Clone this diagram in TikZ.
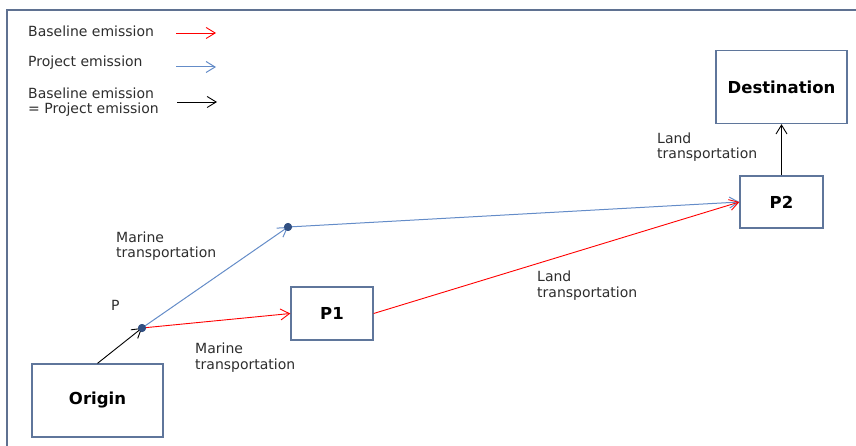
\documentclass[tikz,border=0pt]{standalone}
\usepackage{fontspec}
\setmainfont{DejaVu Sans}
\usetikzlibrary{arrows.meta}
\definecolor{frame}{RGB}{95,113,145}
\definecolor{boxline}{RGB}{95,118,155}
\definecolor{blueline}{RGB}{100,140,200}
\definecolor{dotblue}{RGB}{50,80,130}
\definecolor{txt}{RGB}{45,45,45}
\tikzset{
  x=1pt, y=-1pt,
  tip/.style={-{Straight Barb[length=9pt,width=11pt]}},
  boxnode/.style={draw=boxline, line width=1.3pt, fill=white, inner sep=0pt, font=\fontsize{16.5}{18}\selectfont\bfseries},
  lbl/.style={text=txt, inner sep=0pt, anchor=base west, align=left, font=\fontsize{14}{15.5}\selectfont},
  redarr/.style={tip, draw=red, line width=0.9pt},
  bluearr/.style={tip, draw=blueline, line width=1pt},
  blackarr/.style={tip, draw=black, line width=0.9pt},
  dotnode/.style={circle, fill=dotblue, inner sep=0pt, minimum size=8pt}
}
\begin{document}
\begin{tikzpicture}
\useasboundingbox (0,0) rectangle (856,446);
% frame
\draw[frame, line width=1.2pt] (7,446) -- (7,10) -- (856,10);
% legend
\node[lbl] (l1) at (28,37) {Baseline emission};
\node[lbl] (l2) at (28,67) {Project emission};
\node[lbl] (l3) at (28,114) {Baseline emission\\= Project emission};
\coordinate (r1a) at (176,33); \coordinate (r1b) at (216,33);
\coordinate (r2a) at (176,67); \coordinate (r2b) at (216,67);
\coordinate (r3a) at (177,102); \coordinate (r3b) at (217,102);
\draw[redarr] (r1a) -- (r1b);
\draw[bluearr] (r2a) -- (r2b);
\draw[blackarr] (r3a) -- (r3b);
% boxes
\node[boxnode, minimum width=131pt, minimum height=73pt] (dest) at (781.5,87) {Destination};
\node[boxnode, minimum width=83pt, minimum height=52pt] (p2) at (781.5,202) {P2};
\node[boxnode, minimum width=82pt, minimum height=53pt] (p1) at (332,313.5) {P1};
\node[boxnode, minimum width=131pt, minimum height=73pt] (orig) at (97.5,400.5) {Origin};
% dots
\node[dotnode] (pd) at (142,328) {};
\node[dotnode] (ud) at (288,227) {};
% connectors
\draw[blackarr] (orig.north) -- (pd.center);
\draw[bluearr] (pd.center) -- (ud.center);
\draw[bluearr] (ud.center) -- (p2.west);
\draw[redarr] (pd.center) -- (p1.west);
\draw[redarr] (p1.east) -- (p2.west);
\draw[blackarr] (p2.north) -- (dest.south);
\node[dotnode] at (pd) {};
\node[dotnode] at (ud) {};
% labels
\node[lbl] (lp) at (111,310) {P};
\node[lbl] (lm1) at (116,258) {Marine\\transportation};
\node[lbl] (lm2) at (195,369) {Marine\\transportation};
\node[lbl] (ll1) at (537,297) {Land\\transportation};
\node[lbl] (ll2) at (657,159) {Land\\transportation};
\end{tikzpicture}
\end{document}
